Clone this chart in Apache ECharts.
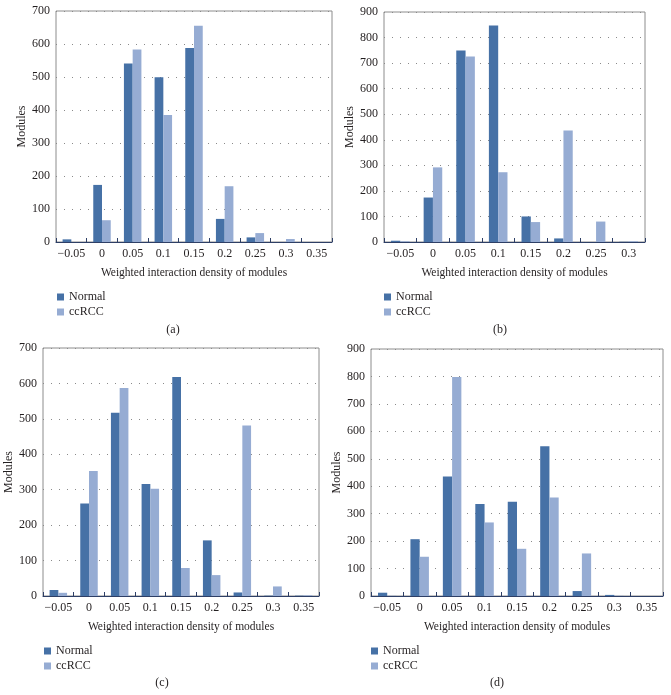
<!DOCTYPE html>
<html>
<head>
<meta charset="utf-8">
<script src="https://cdn.jsdelivr.net/npm/echarts@6/dist/echarts.min.js"></script>
<style>html,body{margin:0;padding:0;background:#fff}#c{width:671px;height:695px}</style>
</head>
<body>
<div id="c"></div>
<script>
const catsA = ["-0.05","0","0.05","0.1","0.15","0.2","0.25","0.3","0.35"];
const catsB = ["-0.05","0","0.05","0.1","0.15","0.2","0.25","0.3"];
const catsC = ["-0.05","0","0.05","0.1","0.15","0.2","0.25","0.3","0.35"];
const catsD = ["-0.05","0","0.05","0.1","0.15","0.2","0.25","0.3","0.35"];

const normalA = [8, 173, 541, 499, 588, 70, 14, 0, 0];
const ccrccA  = [0, 66, 583, 385, 655, 169, 27, 9, 0];
const normalB = [5, 174, 749, 847, 100, 14, 0, 1];
const ccrccB  = [3, 292, 726, 273, 78, 436, 80, 3];
const normalC = [17, 261, 517, 316, 618, 157, 10, 1, 1];
const ccrccC  = [9, 353, 587, 303, 79, 59, 481, 27, 2];
const normalD = [12, 207, 435, 335, 343, 546, 18, 4, 0];
const ccrccD  = [1, 143, 798, 268, 172, 359, 155, 1, 0];

const yMaxes = [700, 900, 700, 900];
const captions = ["(a)", "(b)", "(c)", "(d)"];
const xTitle = "Weighted interaction density of modules";
const yTitle = "Modules";
const seriesNames = ["Normal", "ccRCC"];

const cats = [catsA, catsB, catsC, catsD];
const normals = [normalA, normalB, normalC, normalD];
const ccrccs = [ccrccA, ccrccB, ccrccC, ccrccD];

const FONT = "Liberation Serif";
const TXT = "#231f20";
const COL_N = "#4671a6";
const COL_C = "#96acd3";

const grids = [
  {left: 56, top: 11, width: 276, height: 231},
  {left: 384, top: 12, width: 261, height: 230},
  {left: 43, top: 348, width: 276, height: 248},
  {left: 371, top: 349, width: 292, height: 247}
];
const yNameGaps = [26, 26, 25, 26];
const legendPos = [
  {left: 57, top: 291},
  {left: 384, top: 291},
  {left: 44, top: 645},
  {left: 371, top: 645}
];
const captionPos = [[173, 330], [500, 330], [162, 683], [497, 683]];

const option = {
  animation: false,
  backgroundColor: "#fff",
  grid: grids.map(g => Object.assign({show: true, borderColor: "#8c8c8c", borderWidth: 1, backgroundColor: "transparent"}, g)),
  xAxis: cats.map((c, i) => ({
    type: "category", gridIndex: i, data: c,
    name: xTitle, nameLocation: "middle", nameGap: 25,
    nameTextStyle: {fontFamily: FONT, fontSize: 11.5, color: TXT},
    axisLine: {lineStyle: {color: "#2e3f66", width: 1}},
    axisTick: {show: true, inside: true, length: 4, lineStyle: {color: "#2e3f66"}},
    axisLabel: {fontFamily: FONT, fontSize: 12, color: TXT, margin: 6, interval: 0,
      formatter: v => v.replace("-", "\u2212")},
    splitLine: {show: false}
  })),
  yAxis: yMaxes.map((m, i) => ({
    type: "value", gridIndex: i, min: 0, max: m, interval: 100,
    name: yTitle, nameLocation: "middle", nameGap: yNameGaps[i], nameRotate: 90,
    nameTextStyle: {fontFamily: FONT, fontSize: 12, color: TXT},
    axisLine: {show: false}, axisTick: {show: false},
    axisLabel: {fontFamily: FONT, fontSize: 12, color: TXT, margin: 6},
    splitLine: {show: true, lineStyle: {color: "#8a8a8a", type: [1, 7], width: 1}}
  })),
  legend: legendPos.map((p, i) => ({
    data: seriesNames.map(n => n + (i ? "\u200b".repeat(i) : "")),
    orient: "vertical", left: p.left, top: p.top,
    itemWidth: 7, itemHeight: 7, itemGap: 3, icon: "rect",
    textStyle: {fontFamily: FONT, fontSize: 12, color: TXT}, padding: 0
  })),
  series: [],
  graphic: captions.map((t, i) => ({
    type: "text", x: captionPos[i][0], y: captionPos[i][1],
    style: {text: t, font: "12px '" + FONT + "'", fill: TXT, textAlign: "center", textVerticalAlign: "middle"}
  }))
};

for (let i = 0; i < 4; i++) {
  const suffix = i ? "\u200b".repeat(i) : "";
  option.series.push({
    name: seriesNames[0] + suffix, type: "bar", xAxisIndex: i, yAxisIndex: i,
    data: normals[i], itemStyle: {color: COL_N}, barGap: "0%", barCategoryGap: "43%"
  });
  option.series.push({
    name: seriesNames[1] + suffix, type: "bar", xAxisIndex: i, yAxisIndex: i,
    data: ccrccs[i], itemStyle: {color: COL_C}, barGap: "0%", barCategoryGap: "43%"
  });
}

const chart = echarts.init(document.getElementById("c"), null, {renderer: "canvas"});
chart.setOption(option);
</script>
</body>
</html>
